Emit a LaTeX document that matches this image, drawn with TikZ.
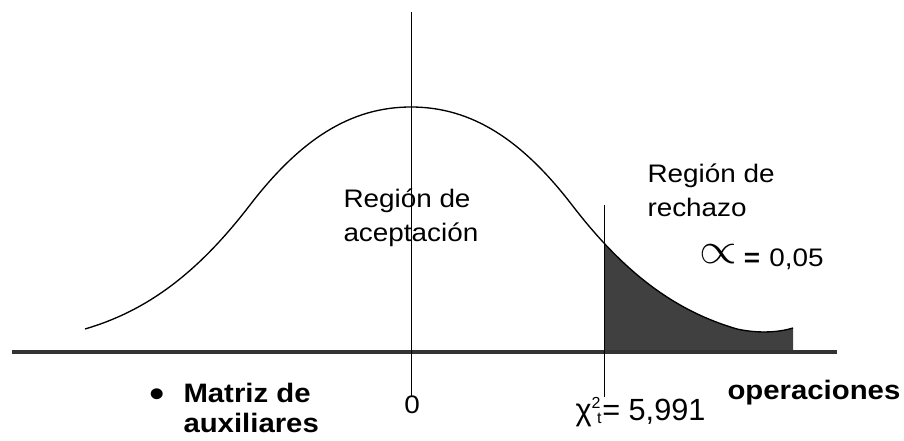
\documentclass[tikz,border=0pt]{standalone}
\usepackage{fontspec}
\setmainfont[FakeStretch=1.1]{Liberation Sans}
\newfontfamily\plainfont{Liberation Sans}
\definecolor{axisgray}{RGB}{51,51,51}
\definecolor{tailgray}{RGB}{64,64,64}
\tikzset{every picture/.style={line width=0.75pt}}
\tikzset{
  lbl/.style={inner sep=0pt, anchor=base west, align=left, font=\fontsize{19}{26}\selectfont},
  boldlbl/.style={inner sep=0pt, anchor=base west, align=left, font=\fontsize{20}{22.5}\selectfont\bfseries},
}

\begin{document}
\begin{tikzpicture}[x=0.75pt,y=0.75pt,yscale=-1,xscale=1]
	\useasboundingbox (0,0) rectangle (904,441);
	
	%Shape: Shaded tail
	\begin{scope}
	\clip (604,0) rectangle (793,352);
	\fill [tailgray] (411,107) .. controls (472,107) and (522,140) .. (572,205) .. controls (622,270) and (672,310) .. (737,329) .. controls (760,334) and (780,332) .. (793,328) -- (793,352) -- (411,352) -- cycle ;
	\end{scope}
	%Curve: density
	\draw [line width=1pt]  (85,329) .. controls (150,310) and (200,270) .. (250,205) .. controls (300,140) and (350,107) .. (411,107) .. controls (472,107) and (522,140) .. (572,205) .. controls (622,270) and (672,310) .. (737,329) .. controls (760,334) and (780,332) .. (793,328) ;
	%Shape: Horizontal axis
	\draw [axisgray, line width=2.6pt]  (12,352) -- (837,352) ;
	%Shape: Vertical axis
	\draw   (411,12) -- (411,397) ;
	%Shape: Critical value line
	\draw   (604,205) -- (604,397) ;
	
	% Text Node
	\node [lbl] (acep) at (343,242) {Región de\\aceptación};
	% Text Node
	\node [lbl] (rech) at (647,217) {Región de\\rechazo};
	% Text Node
	\node [lbl] (alfa) at (699,267) {\raisebox{2.5pt}{\scalebox{2.1}[1.9]{$\propto$}}\hspace{5pt}\textbf{=}\hspace{7pt}0,05};
	% Text Node
	\node [lbl, anchor=base] (cero) at (412,414) {0};
	% Text Node
	\node [inner sep=0pt, anchor=base west, font=\plainfont\fontsize{23}{26}\selectfont] (chi) at (575,421) {χ\raisebox{9pt}{\fontsize{12}{12}\selectfont 2}\hspace{-2.5pt}\raisebox{-2pt}{\fontsize{12}{12}\selectfont t}\hspace{0.5pt}= 5,991};
	% Text Node
	\node [boldlbl] (oper) at (727,400) {operaciones};
	% Text Node
	\node [boldlbl, anchor=center, font=\fontsize{30}{30}\selectfont] (bala) at (157,398) {•};
	% Text Node
	\node [boldlbl] (matriz) at (183,433) {Matriz de\\auxiliares};
	
\end{tikzpicture}
\end{document}
